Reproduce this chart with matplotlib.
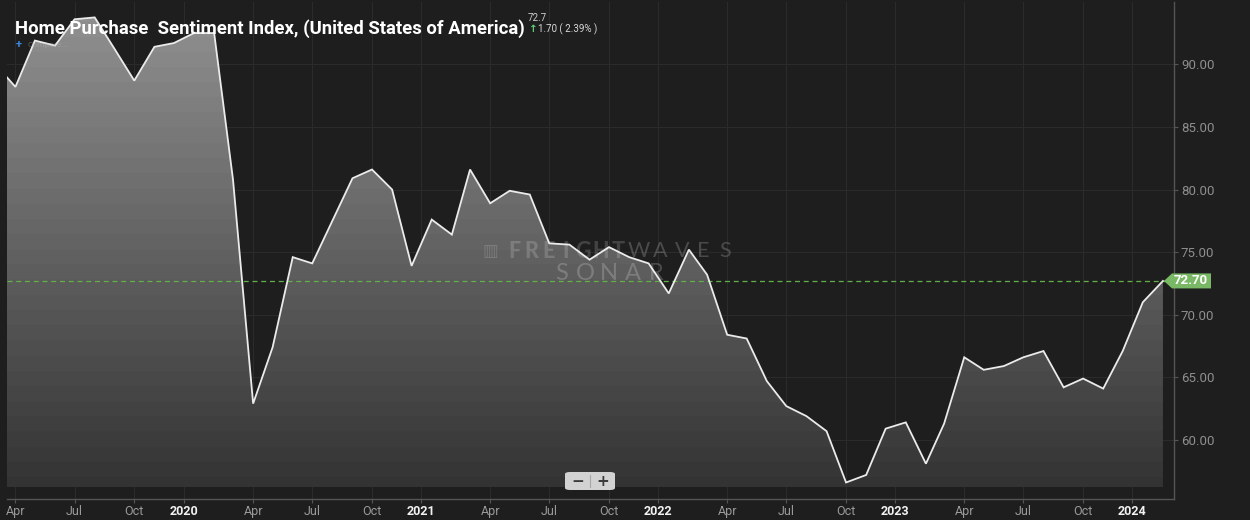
import numpy as np
import pandas as pd
import matplotlib
matplotlib.use("Agg")
import matplotlib.pyplot as plt
import matplotlib.dates as mdates
from matplotlib.patches import Polygon, FancyBboxPatch
from matplotlib.lines import Line2D

# ---------------- data ----------------
start_month = "2019-03-01"
values = [
    90.0, 88.2, 91.9, 91.5, 93.6, 93.75, 91.2, 88.7, 91.4, 91.7,            # 2019 Mar-Dec
    92.5, 92.5, 80.8, 62.9, 67.4, 74.6, 74.1, 77.5, 80.9, 81.6, 80.0, 73.9,  # 2020
    77.6, 76.4, 81.6, 78.9, 79.9, 79.6, 75.7, 75.6, 74.4, 75.4, 74.6, 74.1,  # 2021
    71.7, 75.2, 73.2, 68.4, 68.1, 64.7, 62.7, 61.9, 60.7, 56.6, 57.2, 60.9,  # 2022
    61.4, 58.1, 61.3, 66.6, 65.6, 65.9, 66.6, 67.1, 64.2, 64.9, 64.1, 67.1,  # 2023
    71.0, 72.7,                                                              # 2024 Jan-Feb
]
title = "Home Purchase  Sentiment Index, (United States of America)"
last_value_text = "72.7"
change_text = "1.70 ( 2.39% )"
month_tick_names = ["Apr", "Jul", "Oct"]
month_tick_nums = [4, 7, 10]
years = [2019, 2020, 2021, 2022, 2023, 2024]
ytick_values = [60, 65, 70, 75, 80, 85, 90]

dates = pd.date_range(start_month, periods=len(values), freq="MS")

# ---------------- style ----------------
W, H = 1250, 520
BG = "#1e1e1e"
GRID = "#2b2b2b"
SPINE = "#555555"
GREEN = "#79b865"

def fx(px):
    return px / W

def fy(py):
    return 1 - py / H

plt.rcParams["font.family"] = ["Roboto", "DejaVu Sans"]

fig = plt.figure(figsize=(W / 100, H / 100), dpi=100, facecolor=BG)
ax = fig.add_axes([fx(7), fy(499), fx(1174) - fx(7), fy(2) - fy(499)])
ax.set_facecolor(BG)

YTOP, YBOT = 94.98, 55.28
BASE = 56.24
ax.set_ylim(YBOT, YTOP)
xl0 = mdates.date2num(pd.Timestamp("2019-03-19"))
xl1 = mdates.date2num(pd.Timestamp("2024-02-18"))
ax.set_xlim(xl0, xl1)

xnum = mdates.date2num(dates)
vals = np.array(values)

# gradient fill clipped under the line
verts = [(xnum[0], BASE)] + list(zip(xnum, vals)) + [(xnum[-1], BASE)]
clip = Polygon(verts, closed=True, transform=ax.transData, facecolor="none", edgecolor="none")
ax.add_patch(clip)
nrows = 500
frac = np.linspace(0, 1, nrows)
grey = 0.575 - 0.385 * frac
grey = np.round(grey / 0.0118) * 0.0118
img = np.repeat(grey[:, None], 2, axis=1)
rgb = np.stack([img, img, img], axis=-1)
im = ax.imshow(rgb, extent=[xl0, xl1, YBOT, YTOP], aspect="auto", origin="upper",
               zorder=1, interpolation="nearest")
im.set_clip_path(clip)

# line
ax.plot(xnum, vals, color="#ebebeb", lw=1.3, zorder=4, solid_joinstyle="miter")

# ticks
tick_pos, tick_lab, tick_is_year = [], [], []
for yr in years:
    yd = mdates.date2num(pd.Timestamp(f"{yr - 1}-12-16"))
    if xl0 <= yd <= xl1:
        tick_pos.append(yd); tick_lab.append(str(yr)); tick_is_year.append(True)
    for nm, mn in zip(month_tick_names, month_tick_nums):
        d = mdates.date2num(pd.Timestamp(f"{yr}-{mn:02d}-01"))
        if xl0 <= d <= xl1:
            tick_pos.append(d); tick_lab.append(nm); tick_is_year.append(False)
order = np.argsort(tick_pos)
tick_pos = [tick_pos[i] for i in order]
tick_lab = [tick_lab[i] for i in order]
tick_is_year = [tick_is_year[i] for i in order]
ax.set_xticks(tick_pos)
ax.set_xticklabels(tick_lab)
for lab, isy in zip(ax.get_xticklabels(), tick_is_year):
    if isy:
        lab.set_color("#f2f2f2"); lab.set_fontweight("bold")
    else:
        lab.set_color("#9a9a9a")
    lab.set_fontsize(9)
ax.tick_params(axis="x", length=3, color=SPINE, pad=1.5, width=0.8)

ax.yaxis.tick_right()
ax.set_yticks(ytick_values)
ax.set_yticklabels([f"{v:.2f}" for v in ytick_values])
ax.tick_params(axis="y", length=3, color=SPINE, pad=2, labelsize=9.5, labelcolor="#8e8e8e", width=0.8)

ax.grid(True, color=GRID, lw=0.8, zorder=0)
ax.set_axisbelow(True)
for s in ["left", "top"]:
    ax.spines[s].set_visible(False)
for s in ["right", "bottom"]:
    ax.spines[s].set_color(SPINE)
    ax.spines[s].set_linewidth(1.0)

# dashed last value line
ax.axhline(vals[-1], color="#62b04a", lw=0.9, ls=(0, (4, 3)), zorder=3)

# watermark (letters spread to mimic the wide logo type)
wm_col = (1, 1, 1, 0.17)
fig.text(fx(483), fy(251), "▥", color=wm_col, fontsize=12, va="center", ha="left",
         family=["DejaVu Sans"])
for i, ch in enumerate("FREIGHT"):
    fig.text(fx(514 + i * 17.3), fy(251), ch, color=wm_col, fontsize=15.5, fontweight="black",
             va="center", ha="center", family=["Lato", "DejaVu Sans"])
for i, ch in enumerate("WAVES"):
    fig.text(fx(639 + i * 21.5), fy(251), ch, color=(1, 1, 1, 0.2), fontsize=15.5, fontweight="normal",
             va="center", ha="center", family=["Lato", "DejaVu Sans"])
for i, ch in enumerate("SONAR"):
    fig.text(fx(562 + i * 23.5), fy(274), ch, color=(1, 1, 1, 0.2), fontsize=17, fontweight="normal",
             va="center", ha="center", family=["Lato", "DejaVu Sans"])

# green value tag on the right axis
fig.canvas.draw()
xtip, ypx = ax.transData.transform((xnum[-1], vals[-1]))
ypx_top = H - ypx  # image coords
tag = Polygon([(fx(xtip + 1), fy(ypx_top)), (fx(xtip + 9), fy(ypx_top - 7.5)),
               (fx(1211), fy(ypx_top - 7.5)), (fx(1211), fy(ypx_top + 7.5)),
               (fx(xtip + 9), fy(ypx_top + 7.5))], closed=True,
              transform=fig.transFigure, facecolor=GREEN, edgecolor="none", zorder=10)
fig.patches.append(tag)
fig.text(fx(1191), fy(ypx_top), f"{vals[-1]:.2f}", color="white", fontsize=9.5,
         fontweight="bold", va="center", ha="center", zorder=11)

# title block
fig.text(fx(15), fy(29), title, color="white", fontsize=13.3, fontweight="bold",
         va="center", ha="left", zorder=20)
fig.text(fx(528), fy(18), last_value_text, color="#cccccc", fontsize=7, va="center", ha="left", zorder=20)
fig.text(fx(529), fy(29), "↑", color="#5fd07a", fontsize=7.5, fontweight="bold",
         va="center", ha="left", family=["DejaVu Sans"], zorder=20)
fig.text(fx(538), fy(29), change_text, color="#d8d8d8", fontsize=7, va="center", ha="left", zorder=20)
fig.text(fx(16), fy(45), "+", color="#3b86d8", fontsize=8, fontweight="bold", va="center", ha="left", zorder=20)
fig.text(fx(27), fy(45), "Compare...", color=(0.7, 0.7, 0.7, 0.45), fontsize=6, va="center", ha="left", zorder=20)

# zoom buttons
btn = FancyBboxPatch((fx(565), fy(490)), fx(615) - fx(565), fy(472) - fy(490),
                     boxstyle="round,pad=0,rounding_size=0.004", transform=fig.transFigure,
                     facecolor="#d2d2d2", edgecolor="none", zorder=12)
fig.patches.append(btn)
fig.lines.append(Line2D([fx(590), fx(590)], [fy(475), fy(487)], transform=fig.transFigure,
                        color="#a8a8a8", lw=0.8, zorder=13))
fig.text(fx(577.5), fy(481), "−", color="#3a3a3a", fontsize=11, fontweight="bold",
         va="center", ha="center", family=["DejaVu Sans"], zorder=14)
fig.text(fx(602.5), fy(481), "+", color="#3a3a3a", fontsize=11, fontweight="bold",
         va="center", ha="center", family=["DejaVu Sans"], zorder=14)

fig.savefig("out.png", dpi=100, facecolor=BG)
